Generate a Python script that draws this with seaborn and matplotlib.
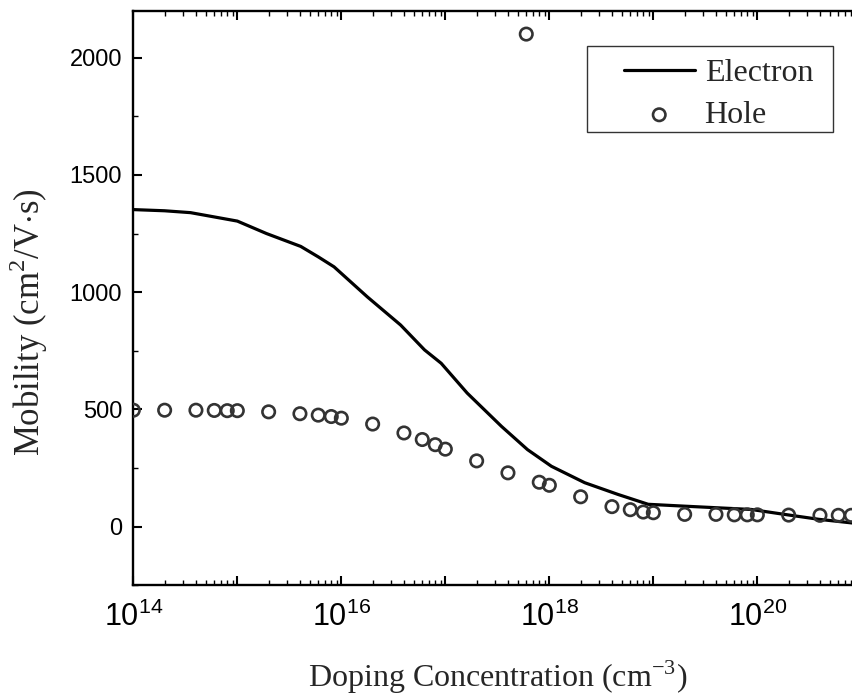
import numpy as np
import pandas as pd
import matplotlib
matplotlib.use("Agg")
import matplotlib.pyplot as plt
from matplotlib.ticker import FixedLocator, FuncFormatter
from matplotlib.path import Path
import seaborn as sns

# ---- data ----
electron_logN = [14.0, 14.3, 14.55, 15.0, 15.28, 15.61, 15.78, 15.93, 16.25, 16.57,
                 16.80, 16.96, 17.21, 17.54, 17.79, 18.02, 18.34, 18.66, 18.95,
                 19.30, 19.94, 20.26, 20.59, 20.94]
electron_mu = [1352, 1347, 1339, 1303, 1250, 1195, 1150, 1108, 980, 860,
               754, 697, 570, 428, 329, 258, 188, 138, 96,
               88, 74, 53, 32, 15]

hole_N = [1e14, 2e14, 4e14, 6e14, 8e14,
          1e15, 2e15, 4e15, 6e15, 8e15,
          1e16, 2e16, 4e16, 6e16, 8e16,
          1e17, 2e17, 4e17, 6e17, 8e17,
          1e18, 2e18, 4e18, 6e18, 8e18,
          1e19, 2e19, 4e19, 6e19, 8e19,
          1e20, 2e20, 4e20, 6e20, 8e20]
hole_mu = [497, 497, 497, 496, 495,
           495, 490, 482, 476, 470,
           463, 438, 400, 372, 350,
           331, 281, 230, 2100, 190,
           177, 128, 86, 73, 63,
           60, 53, 53, 51, 51,
           51, 50, 49, 49, 49]

x_major_exp = [14, 15, 16, 17, 18, 19, 20, 21]
y_major = [0, 500, 1000, 1500, 2000]
y_minor = [-250, 250, 750, 1250, 1750]

# ---- style ----
sns.set_style("ticks")
plt.rcParams["font.family"] = ["Liberation Sans", "DejaVu Sans"]
plt.rcParams["mathtext.fontset"] = "custom"
plt.rcParams["mathtext.rm"] = "Liberation Sans"
plt.rcParams["mathtext.it"] = "Liberation Sans:italic"
plt.rcParams["mathtext.bf"] = "Liberation Sans:bold"

fig = plt.figure(figsize=(8.53, 6.95), dpi=100)
ax = fig.add_axes([0.1563, 0.1576, 0.8535, 0.8271])

el = pd.DataFrame({"N": [10.0 ** v for v in electron_logN], "mu": electron_mu})
ho = pd.DataFrame({"N": hole_N, "mu": hole_mu})

sns.lineplot(data=el, x="N", y="mu", ax=ax, color="black", linewidth=2.3,
             label="Electron", sort=False)
sns.scatterplot(data=ho, x="N", y="mu", ax=ax, marker="o", s=80,
                facecolor="none", edgecolor="#333333", linewidth=1.9,
                label="Hole", zorder=3)

ax.set_xscale("log")
ax.set_xlim(1e14, 1e21)
ax.set_ylim(-250, 2200)

ax.xaxis.set_major_locator(FixedLocator([10.0 ** e for e in x_major_exp]))
minor = [m * 10.0 ** e for e in range(14, 21) for m in range(2, 10)]
ax.xaxis.set_minor_locator(FixedLocator(minor))


def xfmt(v, pos):
    e = int(round(np.log10(v)))
    return r"$\mathregular{10^{%d}}$" % e if e % 2 == 0 else ""


ax.xaxis.set_major_formatter(FuncFormatter(xfmt))
ax.yaxis.set_major_locator(FixedLocator(y_major))
ax.yaxis.set_minor_locator(FixedLocator(y_minor))

for s in ax.spines.values():
    s.set_linewidth(1.7)
    s.set_color("black")

ax.tick_params(which="both", direction="in", top=True, right=True, colors="black")
ax.tick_params(which="major", length=6.5, width=1.5)
ax.tick_params(which="minor", length=3.6, width=1.0)
ax.tick_params(axis="x", which="major", labelsize=22, pad=12)
ax.tick_params(axis="y", which="major", labelsize=17, pad=8)

ax.set_xlabel(r"Doping Concentration (cm$^{\mathregular{-3}}$)",
              family="Liberation Serif", fontsize=23, labelpad=18)
ax.set_ylabel(r"Mobility (cm$^{\mathregular{2}}$/V$\cdot$s)",
              family="Liberation Serif", fontsize=25)
ax.yaxis.set_label_coords(-0.114, 0.458)

leg = ax.legend(loc="upper right", bbox_to_anchor=(0.9337, 0.9159),
                borderaxespad=0, frameon=True, fancybox=False, shadow=False,
                prop={"family": "Liberation Serif", "size": 23},
                handlelength=2.22, handletextpad=0.31, borderpad=0.0,
                labelspacing=0.39, scatterpoints=1)


def legend_frame(x0, y0, width, height, mutation_size):
    left, right, top, bottom = 1.16, 0.63, 0.40, 0.06
    xa = x0 - left * mutation_size
    xb = x0 + width + right * mutation_size
    ya = y0 - bottom * mutation_size
    yb = y0 + height + top * mutation_size
    return Path([(xa, ya), (xb, ya), (xb, yb), (xa, yb), (xa, ya)],
                [Path.MOVETO, Path.LINETO, Path.LINETO, Path.LINETO, Path.CLOSEPOLY])


frame = leg.get_frame()
frame.set_boxstyle(legend_frame)
frame.set_edgecolor("#333333")
frame.set_linewidth(1.0)
frame.set_alpha(1)

fig.savefig("out.png", dpi=100)
